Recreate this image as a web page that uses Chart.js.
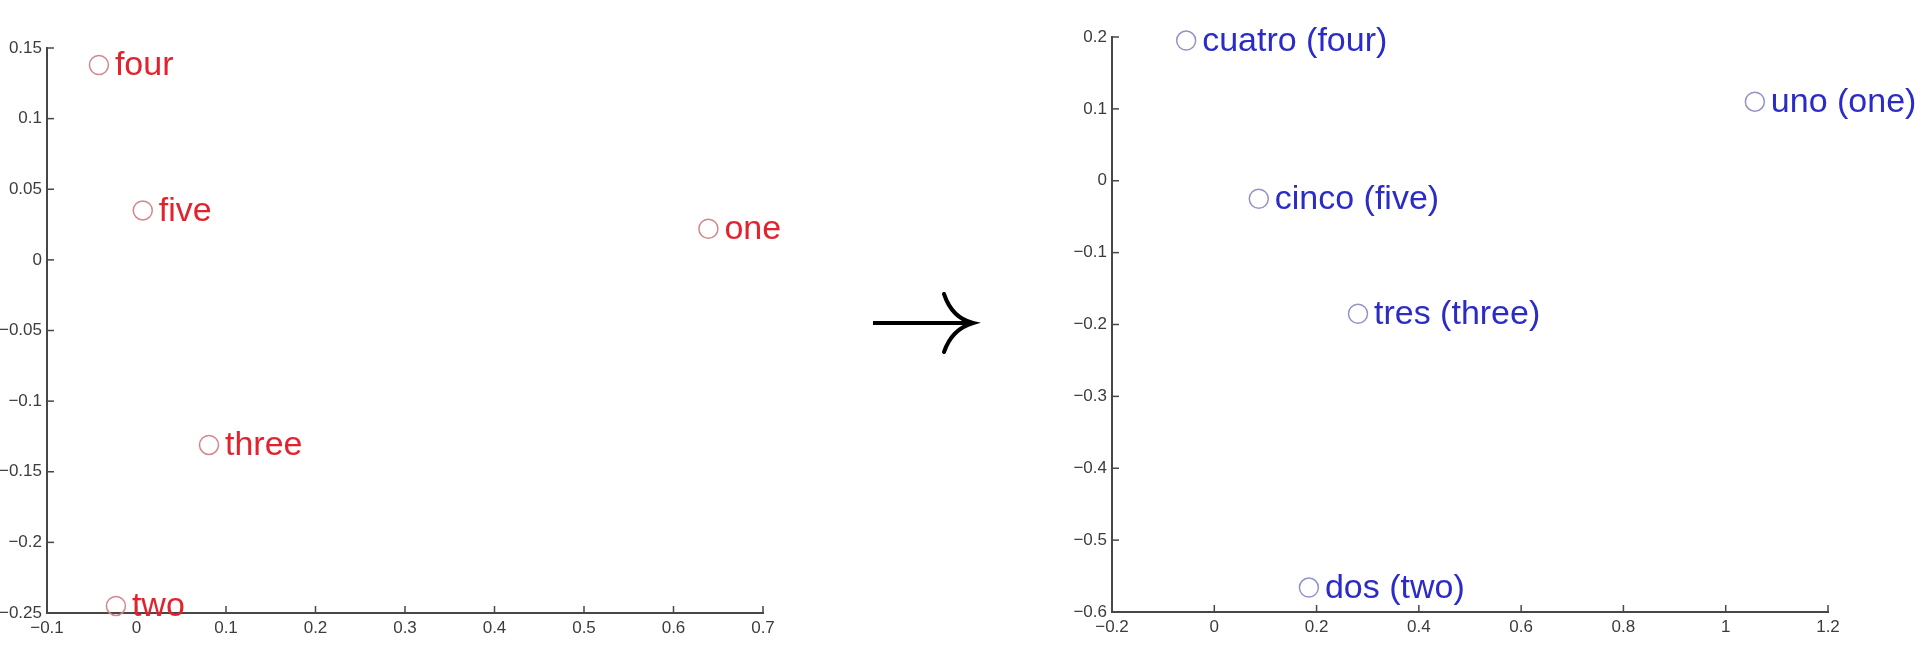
<!DOCTYPE html>
<html>
<head>
<meta charset="utf-8">
<script src="https://cdn.jsdelivr.net/npm/chart.js@4.4.1/dist/chart.umd.min.js"></script>
<style>
  html, body { margin: 0; padding: 0; background: #fff; }
  body { width: 1932px; height: 650px; position: relative; overflow: hidden; }
  .panel { position: absolute; top: 0; height: 650px; }
  #left-wrap { left: 0; width: 800px; }
  #right-wrap { left: 1065px; width: 867px; }
  #arrow { position: absolute; left: 860px; top: 285px; }
</style>
</head>
<body>
<div class="panel" id="left-wrap"><canvas id="english-chart"></canvas></div>
<svg id="arrow" width="130" height="80" viewBox="860 285 130 80">
  <path d="M873 323 L971 323" stroke="#000" stroke-width="4" fill="none"/>
  <path d="M944 294 Q952 318 973 323 Q952 329 944 352" stroke="#000" stroke-width="4" fill="none" stroke-linecap="round"/>
</svg>
<div class="panel" id="right-wrap"><canvas id="spanish-chart"></canvas></div>

<script>
// English word embedding (left)
const englishWords = ['one', 'two', 'three', 'four', 'five'];
const englishX = [0.639, -0.023, 0.081, -0.042, 0.007];
const englishY = [0.022, -0.245, -0.131, 0.138, 0.035];
const englishXTicks = [-0.1, 0, 0.1, 0.2, 0.3, 0.4, 0.5, 0.6, 0.7];
const englishYTicks = [-0.25, -0.2, -0.15, -0.1, -0.05, 0, 0.05, 0.1, 0.15];

// Spanish word embedding (right)
const spanishWords = ['uno (one)', 'dos (two)', 'tres (three)', 'cuatro (four)', 'cinco (five)'];
const spanishX = [1.057, 0.185, 0.281, -0.055, 0.087];
const spanishY = [0.110, -0.566, -0.185, 0.195, -0.025];
const spanishXTicks = [-0.2, 0, 0.2, 0.4, 0.6, 0.8, 1, 1.2];
const spanishYTicks = [-0.6, -0.5, -0.4, -0.3, -0.2, -0.1, 0, 0.1, 0.2];

const FONT = '"Liberation Sans", Arial, Helvetica, sans-serif';
const AXIS_COLOR = '#474747';

// tick labels use a real minus sign like the original figure
function fmt(v) {
  return String(+v.toFixed(2)).replace('-', '\u2212');
}

// inward tick marks + word labels next to each marker
const decorPlugin = {
  id: 'decor',
  afterDraw(chart, args, opts) {
    const ctx = chart.ctx;
    const xs = chart.scales.x;
    const ys = chart.scales.y;
    ctx.save();
    ctx.strokeStyle = AXIS_COLOR;
    ctx.lineWidth = 1.5;
    xs.ticks.forEach(t => {
      const px = xs.getPixelForValue(t.value);
      ctx.beginPath();
      ctx.moveTo(px, ys.bottom);
      ctx.lineTo(px, ys.bottom - 7);
      ctx.stroke();
    });
    ys.ticks.forEach(t => {
      const py = ys.getPixelForValue(t.value);
      ctx.beginPath();
      ctx.moveTo(xs.left, py);
      ctx.lineTo(xs.left + 7, py);
      ctx.stroke();
    });

    ctx.font = '34px ' + FONT;
    ctx.fillStyle = opts.textColor;
    ctx.textAlign = 'left';
    ctx.textBaseline = 'middle';
    const meta = chart.getDatasetMeta(0);
    meta.data.forEach((pt, i) => {
      ctx.fillText(opts.words[i], pt.x + 16, pt.y + 1);
    });
    ctx.restore();
  }
};

function makeScatter(canvasId, words, xs, ys, xTicks, yTicks, cfg) {
  const points = xs.map((x, i) => ({ x: x, y: ys[i] }));
  return new Chart(document.getElementById(canvasId), {
    type: 'scatter',
    data: {
      datasets: [{
        data: points,
        pointStyle: 'circle',
        pointRadius: 9.5,
        pointBorderWidth: 1.5,
        pointBorderColor: cfg.markerColor,
        pointBackgroundColor: 'rgba(0,0,0,0)',
        clip: false
      }]
    },
    options: {
      responsive: true,
      maintainAspectRatio: false,
      animation: false,
      layout: { padding: cfg.padding },
      plugins: {
        legend: { display: false },
        tooltip: { enabled: false },
        decor: { words: words, textColor: cfg.textColor }
      },
      scales: {
        x: {
          type: 'linear',
          min: xTicks[0],
          max: xTicks[xTicks.length - 1],
          afterBuildTicks: s => { s.ticks = xTicks.map(v => ({ value: v })); },
          afterFit: s => { s.height = cfg.xHeight; },
          grid: { display: false, drawTicks: false },
          border: { display: true, color: AXIS_COLOR, width: 2 },
          ticks: {
            padding: 5,
            maxRotation: 0,
            autoSkip: false,
            color: '#3c3c3c',
            font: { family: FONT, size: 17 },
            callback: v => fmt(v)
          }
        },
        y: {
          type: 'linear',
          min: yTicks[0],
          max: yTicks[yTicks.length - 1],
          afterBuildTicks: s => { s.ticks = yTicks.map(v => ({ value: v })); },
          afterFit: s => { s.width = 47; },
          grid: { display: false, drawTicks: false },
          border: { display: true, color: AXIS_COLOR, width: 2 },
          ticks: {
            padding: 5,
            autoSkip: false,
            color: '#3c3c3c',
            font: { family: FONT, size: 17 },
            callback: v => fmt(v)
          }
        }
      }
    },
    plugins: [decorPlugin]
  });
}

makeScatter('english-chart', englishWords, englishX, englishY, englishXTicks, englishYTicks, {
  markerColor: '#d4868d',
  textColor: '#e2232d',
  padding: { top: 48, right: 37, left: 0, bottom: 0 },
  xHeight: 37
});

makeScatter('spanish-chart', spanishWords, spanishX, spanishY, spanishXTicks, spanishYTicks, {
  markerColor: '#9494c4',
  textColor: '#2b2bc8',
  padding: { top: 37, right: 104, left: 0, bottom: 0 },
  xHeight: 38
});
</script>
</body>
</html>
